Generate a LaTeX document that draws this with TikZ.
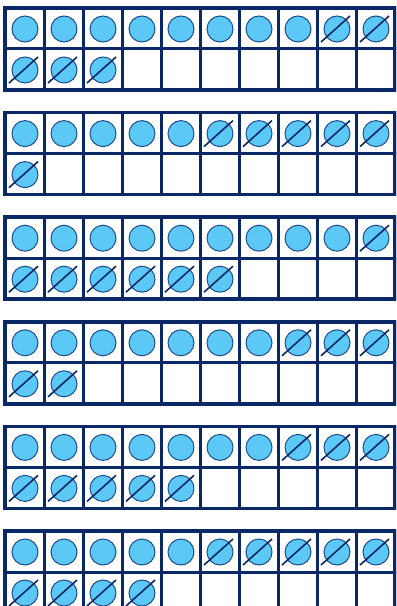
\documentclass[tikz,border=0pt]{standalone}
\usepackage{tikz}

\definecolor{framenavy}{HTML}{0A2766}
\definecolor{counterblue}{HTML}{5BC8F5}
\definecolor{counteredge}{HTML}{1E4C8C}

\begin{document}
\begin{tikzpicture}[x=1bp, y=-1bp,
        frameline/.style={draw=framenavy, line width=3bp},
        counter/.style={circle, draw=counteredge, fill=counterblue, line width=1bp, minimum size=26bp, inner sep=0pt},
        cross/.style={draw=framenavy, line width=1.6bp}
    ]
        \clip (0,0) rectangle (396,606);
        % --- ten frames: frame / counters / counters kept ---
        \foreach \f/\n/\k in {0/13/8, 1/11/5, 2/16/9, 3/12/7, 4/15/7, 5/14/5} {
            \pgfmathsetmacro{\ytop}{8+104.6*\f}
            % cells
            \foreach \c in {0,...,9} {
                \foreach \r in {0,1} {
                    \draw[frameline] (5+39*\c, \ytop+41*\r) rectangle ++(39,41);
                }
            }
            \draw[frameline, line width=3.5bp] (5,\ytop) rectangle (395,\ytop+82);
            % counters, the ones past \k crossed out
            \foreach \i in {1,...,\n} {
                \pgfmathtruncatemacro{\c}{mod(\i-1,10)}
                \pgfmathtruncatemacro{\r}{(\i-1)/10}
                \node[counter] (c\f-\i) at (25+39*\c, \ytop+21+41*\r) {};
                \ifnum\i>\k\relax
                    \draw[cross] ([shift={(-16,13)}]c\f-\i.center) -- ([shift={(13,-13)}]c\f-\i.center);
                \fi
            }
        }
    \end{tikzpicture}
\end{document}
